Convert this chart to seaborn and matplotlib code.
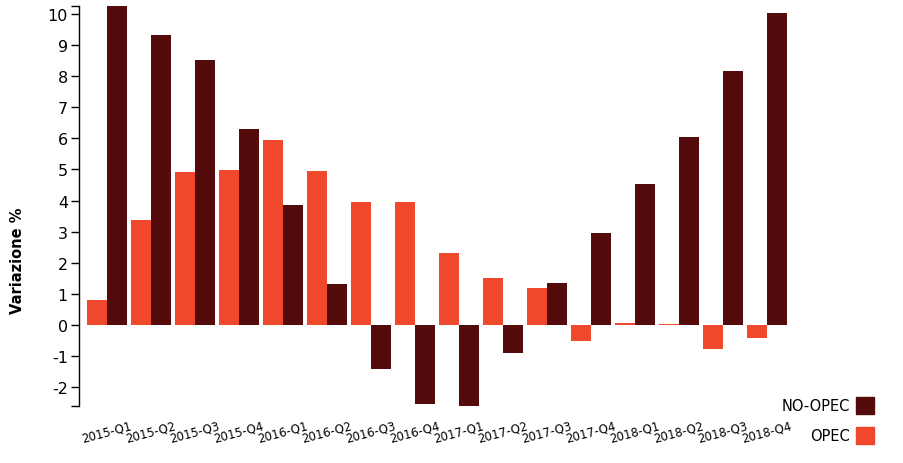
import pandas as pd
import numpy as np
import matplotlib.pyplot as plt
import seaborn as sns
from matplotlib.patches import Patch

## variazione % produzione petrolio, OPEC vs NO-OPEC, per trimestre

quarters = ['2015-Q1', '2015-Q2', '2015-Q3', '2015-Q4',
            '2016-Q1', '2016-Q2', '2016-Q3', '2016-Q4',
            '2017-Q1', '2017-Q2', '2017-Q3', '2017-Q4',
            '2018-Q1', '2018-Q2', '2018-Q3', '2018-Q4']
opec = [0.80, 3.37, 4.93, 4.97, 5.94, 4.95, 3.95, 3.95,
        2.30, 1.50, 1.20, -0.52, 0.07, 0.02, -0.78, -0.43]
no_opec = [10.25, 9.32, 8.51, 6.30, 3.85, 1.31, -1.42, -2.55,
           -2.60, -0.90, 1.34, 2.96, 4.52, 6.04, 8.16, 10.04]

series_names = ['OPEC', 'NO-OPEC']
colors = {'OPEC': '#f0482c', 'NO-OPEC': '#540b0b'}

df = pd.DataFrame({
    'quarter': quarters * 2,
    'serie': ['OPEC'] * len(quarters) + ['NO-OPEC'] * len(quarters),
    'valore': opec + no_opec,
})

sns.set_style('white')
plt.rcParams['font.family'] = ['DejaVu Sans']
plt.rcParams['axes.unicode_minus'] = False
plt.rcParams['text.color'] = 'black'
plt.rcParams['xtick.color'] = 'black'
plt.rcParams['ytick.color'] = 'black'

fig = plt.figure(figsize=(9.04, 4.64), dpi=100)
ax = fig.add_axes([79 / 904, 57 / 464, (795 - 79) / 904, 400 / 464])

sns.barplot(data=df, x='quarter', y='valore', hue='serie', hue_order=series_names,
            palette=colors, saturation=1, width=0.91, errorbar=None, linewidth=0,
            legend=False, ax=ax)

ax.set_xlim(-0.636, 15.636)
ax.set_ylim(min(no_opec), max(no_opec))
ax.set_yticks(range(-2, 11))
ax.set_yticks([min(no_opec), max(no_opec)], minor=True)
ax.tick_params(axis='y', which='both', left=True, length=6, width=1, pad=2,
               labelsize=11.5, color='black', labelcolor='black', direction='out')
ax.tick_params(axis='x', length=0, pad=9, labelsize=8.5, labelcolor='black')
plt.setp(ax.get_xticklabels(), rotation=15, ha='center')

sns.despine(ax=ax, bottom=True)
ax.spines['left'].set_color('black')
ax.spines['left'].set_linewidth(1)
ax.set_xlabel('')
ax.set_ylabel('')

fig.text(18 / 904, 1 - 261 / 464, 'Variazione %', rotation=90, ha='center',
         va='center', fontsize=10.5, fontweight='bold', color='black')

handles = [Patch(color=colors['NO-OPEC'], label='NO-OPEC'),
           Patch(color=colors['OPEC'], label='OPEC')]
fig.legend(handles=handles, loc='lower right', bbox_to_anchor=(874 / 904, 19 / 464),
           frameon=False, markerfirst=False, fontsize=10.5, handlelength=1.25,
           handleheight=1.45, handletextpad=0.4, labelspacing=0.85,
           borderpad=0, borderaxespad=0, labelcolor='black')

fig.savefig('out.png', dpi=100)
